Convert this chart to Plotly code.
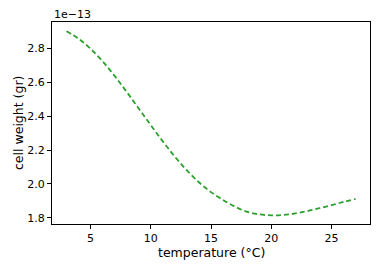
import plotly.graph_objects as go

# data (cell weight in units of 1e-13 gr)
temperature = [3, 4, 5, 6, 7, 8, 9, 10, 11, 12, 13, 14, 15, 16, 17, 18, 19, 20, 21, 22, 23, 24, 25, 26, 27]
cell_weight = [2.900, 2.857, 2.797, 2.723, 2.637, 2.543, 2.445, 2.347, 2.251, 2.161, 2.080, 2.010, 1.952,
               1.906, 1.866, 1.836, 1.821, 1.815, 1.817, 1.826, 1.840, 1.857, 1.875, 1.894, 1.912]
x_ticks = [5, 10, 15, 20, 25]
y_ticks = [1.8, 2.0, 2.2, 2.4, 2.6, 2.8]
y_tick_text = ["1.8", "2.0", "2.2", "2.4", "2.6", "2.8"]
exponent_label = "1e\u221213"
x_title = "temperature (\u00b0C)"
y_title = "cell weight (gr)"

font = "DejaVu Sans"
fig = go.Figure()
fig.add_trace(go.Scatter(
    x=temperature, y=cell_weight, mode="lines",
    line=dict(color="#2ca02c", width=1.8, dash="5px,3px", shape="spline", smoothing=1.0),
    showlegend=False,
))

axis_common = dict(
    showline=True, linecolor="black", linewidth=1, mirror=True,
    ticks="outside", ticklen=4, tickwidth=1, tickcolor="black",
    showgrid=False, zeroline=False, automargin=False,
    tickfont=dict(family=font, size=11, color="black"),
)
fig.update_xaxes(range=[1.8, 28.2], tickvals=x_ticks, **axis_common)
fig.update_yaxes(range=[1.764, 2.955], tickvals=y_ticks, ticktext=y_tick_text, **axis_common)
fig.add_annotation(text=exponent_label, xref="paper", yref="paper", x=0, y=1, xanchor="left", yanchor="bottom",
                   showarrow=False, font=dict(family=font, size=11, color="black"), yshift=-1)
fig.add_annotation(text=x_title, xref="paper", yref="paper", x=0.5, y=0, xanchor="center", yanchor="middle",
                   showarrow=False, font=dict(family=font, size=12.5, color="black"), yshift=-28)
fig.add_annotation(text=y_title, xref="paper", yref="paper", x=0, y=0.5, xanchor="center", yanchor="middle",
                   showarrow=False, textangle=-90, font=dict(family=font, size=12.5, color="black"), xshift=-34)
fig.update_layout(
    width=382, height=275,
    margin=dict(l=52, r=12, t=22, b=51),
    paper_bgcolor="white", plot_bgcolor="white",
)
fig.write_html("out.html", config={"displayModeBar": False},
               post_script="document.body.style.margin='0';")
